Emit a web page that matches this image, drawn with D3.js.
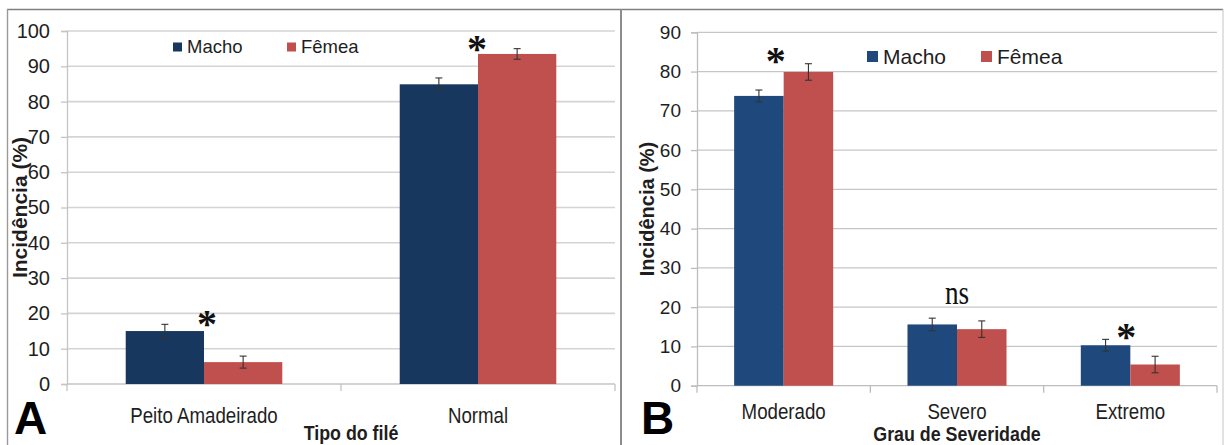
<!DOCTYPE html>
<html>
<head>
<meta charset="utf-8">
<script src="https://cdn.jsdelivr.net/npm/d3@7"></script>
<style>
  html, body { margin: 0; padding: 0; background: #fff; }
  svg { display: block; font-family: "Liberation Sans", Arial, sans-serif; }
</style>
</head>
<body>
<svg id="chart" width="1225" height="445"></svg>
<script>
// Panel A: fillet type
const catsA = ["Peito Amadeirado", "Normal"];
const machoA = [15.0, 84.9];
const femeaA = [6.2, 93.5];
const errMachoA = [1.9, 1.8];
const errFemeaA = [1.7, 1.5];
const sigA = ["*", "*"];
const ticksA = [0, 10, 20, 30, 40, 50, 60, 70, 80, 90, 100];

// Panel B: severity grade
const catsB = ["Moderado", "Severo", "Extremo"];
const machoB = [73.8, 15.6, 10.3];
const femeaB = [79.9, 14.4, 5.4];
const errMachoB = [1.5, 1.6, 1.5];
const errFemeaB = [2.1, 2.1, 2.1];
const sigB = ["*", "ns", "*"];
const ticksB = [0, 10, 20, 30, 40, 50, 60, 70, 80, 90];

const seriesNames = ["Macho", "Fêmea"];

const svg = d3.select("#chart");
const TXT = "#1e1e1e";

// frame lines around the two panels
svg.append("line").attr("x1", 7).attr("x2", 1223).attr("y1", 9.5).attr("y2", 9.5)
  .attr("stroke", "#7f7f7f").attr("stroke-width", 1.6);
svg.append("line").attr("x1", 7.5).attr("x2", 7.5).attr("y1", 9).attr("y2", 445)
  .attr("stroke", "#9a9a9a").attr("stroke-width", 1.4);
svg.append("line").attr("x1", 621).attr("x2", 621).attr("y1", 9).attr("y2", 445)
  .attr("stroke", "#8c8c8c").attr("stroke-width", 2);
svg.append("line").attr("x1", 1223).attr("x2", 1223).attr("y1", 9).attr("y2", 445)
  .attr("stroke", "#c4c4c4").attr("stroke-width", 1);

function scaledText(g, x, y, str, size, sx, opts = {}) {
  return g.append("text")
    .attr("transform", `translate(${x},${y}) scale(${sx},1)`)
    .attr("text-anchor", opts.anchor || "middle")
    .attr("font-size", size)
    .attr("font-weight", opts.weight || "normal")
    .attr("font-family", opts.family || null)
    .attr("fill", opts.fill || TXT)
    .text(str);
}

function drawPanel(cfg) {
  const g = svg.append("g");
  const x = d3.scaleBand().domain(cfg.cats).range([cfg.left, cfg.right]).padding(0);
  const y = d3.scaleLinear().domain([0, cfg.max]).range([cfg.bottom, cfg.top]);
  const barW = x.bandwidth() / 3.5; // gap width 150%
  const inner = d3.scaleBand().domain(seriesNames).range([0, barW * 2]);

  // gridlines
  g.append("g").selectAll("line").data(cfg.ticks.slice(1)).join("line")
    .attr("x1", cfg.left).attr("x2", cfg.right)
    .attr("y1", d => y(d)).attr("y2", d => y(d))
    .attr("stroke", cfg.gridColor).attr("stroke-width", cfg.gridWidth);

  // y axis
  const yAxis = g.append("g").attr("transform", `translate(${cfg.left},0)`)
    .call(d3.axisLeft(y).tickValues(cfg.ticks).tickSize(6).tickPadding(cfg.tickPad).tickFormat(d3.format("d")));
  yAxis.select(".domain").attr("stroke", cfg.axisColor).attr("stroke-width", 1.3);
  yAxis.selectAll(".tick line").attr("stroke", cfg.axisColor).attr("stroke-width", 1.3);
  yAxis.selectAll(".tick text").attr("font-size", cfg.tickSize).attr("fill", TXT)
    .attr("font-family", "Liberation Sans, Arial, sans-serif");

  // x axis baseline with boundary ticks
  g.append("line").attr("x1", cfg.left).attr("x2", cfg.right)
    .attr("y1", cfg.bottom).attr("y2", cfg.bottom)
    .attr("stroke", cfg.axisColor).attr("stroke-width", 1.3);
  const bounds = cfg.cats.map(c => x(c)).concat([cfg.right]);
  g.append("g").selectAll("line").data(bounds).join("line")
    .attr("x1", d => d).attr("x2", d => d)
    .attr("y1", cfg.bottom).attr("y2", cfg.bottom + 7)
    .attr("stroke", cfg.axisColor).attr("stroke-width", 1.3);

  // bars
  const rows = [];
  cfg.cats.forEach((c, i) => {
    rows.push({ cat: c, s: "Macho", v: cfg.macho[i], e: cfg.errMacho[i], col: cfg.colMacho });
    rows.push({ cat: c, s: "Fêmea", v: cfg.femea[i], e: cfg.errFemea[i], col: cfg.colFemea });
  });
  const bx = d => x(d.cat) + (x.bandwidth() - barW * 2) / 2 + inner(d.s);
  g.append("g").selectAll("rect").data(rows).join("rect")
    .attr("x", bx).attr("width", inner.bandwidth())
    .attr("y", d => y(d.v)).attr("height", d => y(0) - y(d.v))
    .attr("fill", d => d.col);

  // error bars
  const eb = g.append("g").attr("stroke", "#333").attr("stroke-width", 1.1);
  rows.forEach(d => {
    const cx = bx(d) + inner.bandwidth() / 2;
    eb.append("line").attr("x1", cx).attr("x2", cx).attr("y1", y(d.v + d.e)).attr("y2", y(d.v - d.e));
    eb.append("line").attr("x1", cx - 3.5).attr("x2", cx + 3.5).attr("y1", y(d.v + d.e)).attr("y2", y(d.v + d.e));
    eb.append("line").attr("x1", cx - 3.5).attr("x2", cx + 3.5).attr("y1", y(d.v - d.e)).attr("y2", y(d.v - d.e));
  });

  // significance marks
  cfg.sig.forEach((s, i) => {
    const c = cfg.cats[i];
    const topV = Math.max(cfg.macho[i], cfg.femea[i]);
    const cx = x(c) + x.bandwidth() / 2 + cfg.sigDx[i];
    if (s === "*") {
      scaledText(g, cx, y(topV) + cfg.starDy[i], "*", 40, 1, { weight: "bold", family: "Liberation Serif, serif", fill: "#111" });
    } else {
      scaledText(g, cx, y(Math.max(cfg.macho[i] + cfg.errMacho[i], cfg.femea[i] + cfg.errFemea[i])) - 14, s, 34, 0.8,
        { family: "Liberation Serif, serif", fill: "#111" });
    }
  });

  // category labels
  cfg.cats.forEach(c => {
    scaledText(g, x(c) + x.bandwidth() / 2, cfg.catY, c, 22, 0.85);
  });

  // axis titles
  scaledText(g, (cfg.left + cfg.right) / 2 + cfg.xTitleDx, cfg.xTitleY, cfg.xTitle, 20.5, 0.87, { weight: "bold" });
  g.append("text")
    .attr("transform", `translate(${cfg.yTitleX},${(cfg.top + cfg.bottom) / 2}) rotate(-90)`)
    .attr("text-anchor", "middle").attr("font-size", cfg.yTitleSize).attr("font-weight", "bold")
    .attr("fill", TXT).text("Incidência (%)");

  // legend
  const lg = g.append("g");
  seriesNames.forEach((s, i) => {
    const lx = cfg.legX[i];
    lg.append("rect").attr("x", lx).attr("y", cfg.legY - cfg.legSq / 2).attr("width", cfg.legSq).attr("height", cfg.legSq)
      .attr("fill", i === 0 ? cfg.colMacho : cfg.colFemea);
    lg.append("text").attr("x", lx + cfg.legSq + 5).attr("y", cfg.legY).attr("dy", "0.35em")
      .attr("font-size", cfg.legFont).attr("fill", TXT).text(s);
  });

  // panel letter
  g.append("text").attr("x", cfg.letterX).attr("y", 434).attr("font-size", 46).attr("font-weight", "bold")
    .attr("fill", "#000").text(cfg.letter);
}

drawPanel({
  cats: catsA, macho: machoA, femea: femeaA, errMacho: errMachoA, errFemea: errFemeaA,
  sig: sigA, sigDx: [3, -1], starDy: [6, 8], ticks: ticksA, max: 100,
  left: 67, right: 615, top: 31, bottom: 384,
  colMacho: "#17375E", colFemea: "#C0504D",
  gridColor: "#d4d4d4", gridWidth: 1.6, axisColor: "#c4c4c4",
  tickSize: 20, tickPad: 11,
  catY: 423, xTitle: "Tipo do filé", xTitleY: 440, xTitleDx: 10,
  yTitleX: 27, yTitleSize: 21,
  legX: [173, 287], legY: 47, legSq: 9, legFont: 18.5,
  letter: "A", letterX: 14
});

drawPanel({
  cats: catsB, macho: machoB, femea: femeaB, errMacho: errMachoB, errFemea: errFemeaB,
  sig: sigB, sigDx: [-8, 0, -4], starDy: [2.5, 0, 5], ticks: ticksB, max: 90,
  left: 697, right: 1217, top: 32.3, bottom: 385.7,
  colMacho: "#1F497D", colFemea: "#C0504D",
  gridColor: "#c6c6c6", gridWidth: 1.2, axisColor: "#bdbdbd",
  tickSize: 19, tickPad: 10,
  catY: 419, xTitle: "Grau de Severidade", xTitleY: 441, xTitleDx: 0,
  yTitleX: 654, yTitleSize: 20,
  legX: [867, 981], legY: 56.5, legSq: 11, legFont: 21,
  letter: "B", letterX: 641
});
</script>
</body>
</html>
